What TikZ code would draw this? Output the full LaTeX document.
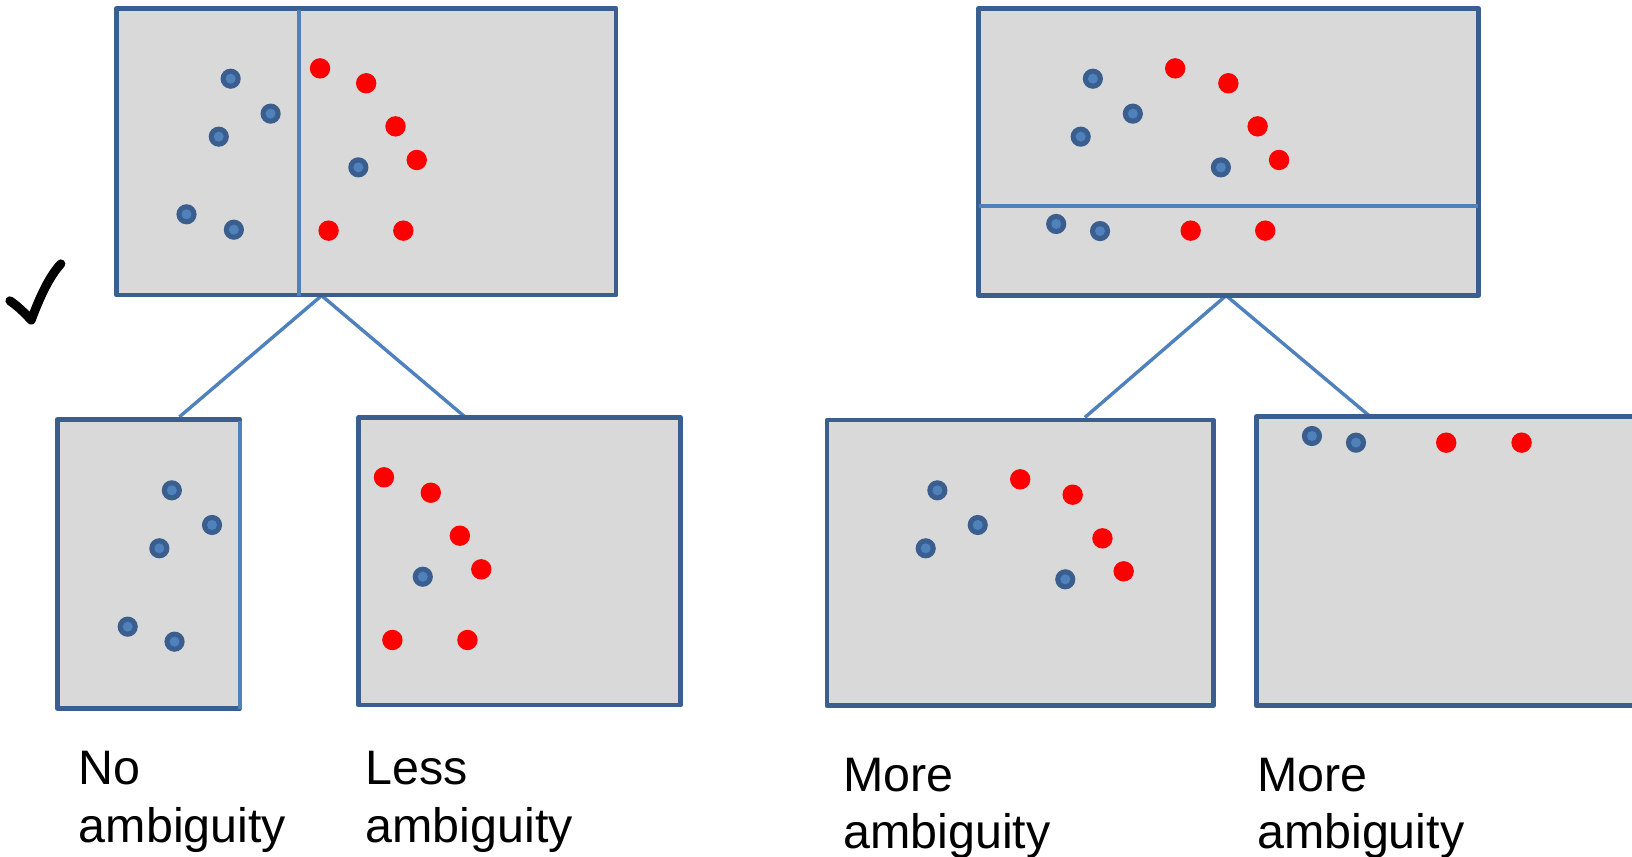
\documentclass[tikz,border=0pt]{standalone}
\usepackage{fontspec}
\setmainfont{Liberation Sans}

\definecolor{panelfill}{HTML}{D9D9D9}
\definecolor{paneledge}{HTML}{3A5F8E}
\definecolor{splitblue}{HTML}{4F81BD}
\definecolor{dotred}{HTML}{FF0000}

\tikzset{
  panel/.style={fill=panelfill, draw=paneledge, line width=2.3pt, line join=round},
  splitline/.style={draw=splitblue, line width=2pt},
  branch/.style={draw=splitblue, line width=1.7pt},
  lbl/.style={anchor=base west, align=left, inner sep=0pt,
    font=\fontsize{24.2pt}{28.6pt}\selectfont},
  tick/.style={draw=black, line width=4.5pt, line cap=round, line join=round}
}

% blue ringed point and red point
\newcommand\bluepts[1]{%
  \foreach \px/\py in {#1}{%
    \fill[paneledge] (\px,\py) circle[radius=9.7];
    \fill[splitblue] (\px,\py) circle[radius=4.8];
  }}
\newcommand\redpts[1]{%
  \foreach \px/\py in {#1}{%
    \fill[dotred] (\px,\py) circle[radius=9.8];
  }}

\begin{document}
\begin{tikzpicture}[x=0.5204pt, y=-0.5204pt]
\useasboundingbox (0,0) rectangle (1568,823);
\clip (0,0) rectangle (1568,823);

% fork points and child entry points
\coordinate (forkL) at (309,284);
\coordinate (noamb-in) at (172.4,400.5);
\coordinate (lessamb-in) at (446.1,400);
\coordinate (forkR) at (1178,284);
\coordinate (moreA-in) at (1042.4,401);
\coordinate (moreB-in) at (1315.6,399.5);

% branches
\draw[branch] (noamb-in) -- (forkL) -- (lessamb-in);
\draw[branch] (moreA-in) -- (forkR) -- (moreB-in);

% ---- left split: vertical cut ----
\path[panel] (112,8) rectangle (592,283.5);
\draw[splitline] (287,10) -- (287,284.5);
\bluepts{221.6/75.6, 260/109.2, 210.2/131.3, 344.3/160.8, 179.2/205.9, 224.7/220.7}
\redpts{307.5/65.7, 351.8/80, 380/121.4, 400.4/153.7, 315.7/221.6, 387.5/221.6}

% ---- right split: horizontal cut ----
\path[panel] (940,8) rectangle (1420.5,284);
\draw[splitline] (941,197.5) -- (1420,197.5);
\bluepts{1050/75.6, 1088.4/109.2, 1038.3/131.3, 1173/160.8, 1014.8/215.2, 1056.9/222}
\redpts{1129.1/65.7, 1180.2/80, 1208.3/121.4, 1228.9/153.7, 1144/221.6, 1215.6/221.6}

% ---- children of the vertical cut ----
\path[panel] (55,403) rectangle (230.5,680.5);
\draw[draw=splitblue, line width=2.3pt] (230.5,404.2) -- (230.5,681.6);
\bluepts{165.1/471.1, 203.7/504.4, 153.1/526.8, 122.7/602.1, 167.7/616.5}

\path[panel] (344.5,401.3) rectangle (654,677.5);
\redpts{368.9/458.6, 413.9/473.4, 441.8/514.7, 462.4/547, 377/614.9, 449.1/614.9}
\bluepts{406.2/554.1}

% ---- children of the horizontal cut ----
\path[panel] (794.5,403.5) rectangle (1166,678);
\bluepts{900.6/471.1, 939.4/504.4, 889.4/526.8, 1023.5/556.6}
\redpts{980.2/460.5, 1030.6/475.3, 1059.2/517.2, 1079.6/548.9}

\fill[panelfill] (1207,400.3) rectangle (1600,678);
\draw[paneledge, line width=2.3pt, line join=round]
  (1600,400.3) -- (1207,400.3) -- (1207,678) -- (1600,678);
\bluepts{1260.5/418.9, 1302.8/425.3}
\redpts{1389.5/425.3, 1461.9/425.3}

% ---- captions (anchored on the last line's baseline) ----
\node[lbl] (cap-no)    at (75.5,809)  {No\\ambiguity};
\node[lbl] (cap-less)  at (351,809)   {Less\\ambiguity};
\node[lbl] (cap-moreA) at (810,815)   {More\\ambiguity};
\node[lbl] (cap-moreB) at (1207.5,815) {More\\ambiguity};

% ---- tick mark ----
\draw[tick] (9.5,289) .. controls (17,294) and (24,301) .. (30,307.5)
  .. controls (38,286) and (47,266) .. (58.5,253.5);
\end{tikzpicture}
\end{document}
